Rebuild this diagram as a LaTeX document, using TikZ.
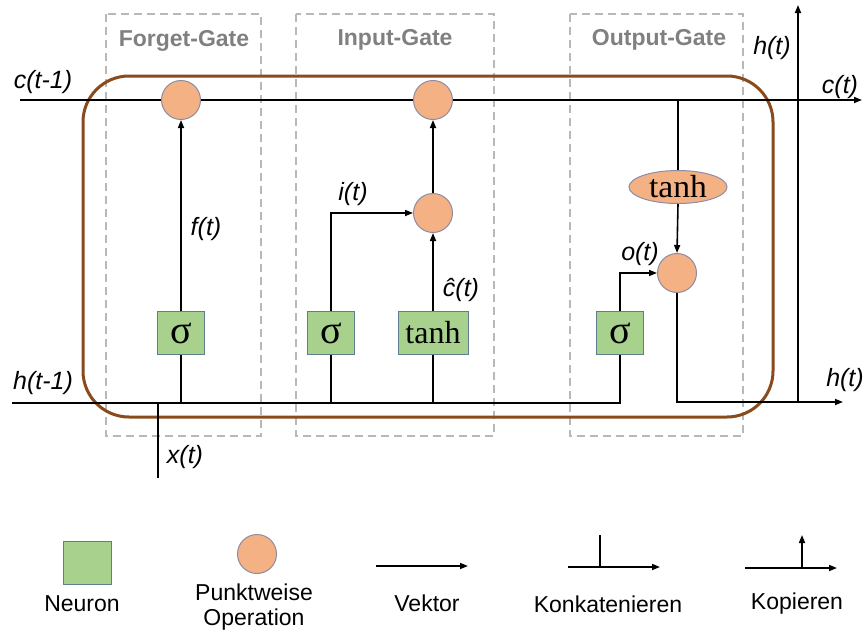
\documentclass[tikz,border=0pt]{standalone}
\usepackage{fontspec}
\setmainfont{Liberation Sans}
\newfontfamily\serifF{Liberation Serif}
\usetikzlibrary{arrows.meta,shapes.geometric}
\definecolor{orfill}{HTML}{F4B183}
\definecolor{ordraw}{HTML}{8C8CA6}
\definecolor{grfill}{HTML}{A9D18E}
\definecolor{grdraw}{HTML}{5F7F8F}
\definecolor{brownline}{HTML}{8A4A1C}
\definecolor{gatecol}{HTML}{808080}
\definecolor{dashcol}{HTML}{B8B8B8}
\tikzset{
  wire/.style={line width=1.6pt,black},
  arr/.style={wire,-{Triangle[length=8pt,width=6pt]}},
  neuron/.style={draw=grdraw,fill=grfill,line width=1pt,minimum width=47pt,minimum height=43pt,inner sep=0pt,font=\serifF\fontsize{32}{34}\selectfont},
  pw/.style={circle,draw=ordraw,fill=orfill,line width=1pt,minimum size=39pt,inner sep=0pt},
  pwell/.style={ellipse,draw=ordraw,fill=orfill,line width=1pt,minimum width=98pt,minimum height=33pt,inner sep=0pt,font=\serifF\fontsize{32}{34}\selectfont},
  gatebox/.style={draw=dashcol,line width=2.2pt,dash pattern=on 8pt off 5pt},
  gatelbl/.style={text=gatecol,font=\bfseries\fontsize{23}{26}\selectfont},
  lbl/.style={font=\itshape\fontsize{25}{28}\selectfont,inner sep=0pt},
  leg/.style={font=\fontsize{23}{25}\selectfont,inner sep=0pt,align=center},
}
\newcommand{\sig}{\scalebox{1.25}{σ}}
\begin{document}
\begin{tikzpicture}[x=1pt,y=-1pt]
\useasboundingbox (0,0) rectangle (864,637);
% gate boxes
\draw[gatebox] (106,14) rectangle (261,436);
\draw[gatebox] (296,14) rectangle (494,436);
\draw[gatebox] (570,14) rectangle (743,436);
\node[gatelbl] (lforget) at (184,41) {Forget-Gate};
\node[gatelbl] (linput) at (395,40) {Input-Gate};
\node[gatelbl] (loutput) at (659,40) {Output-Gate};
% cell outline
\draw[brownline,line width=3pt,rounded corners=46pt] (83,76) rectangle (773,417);
% nodes
\node[pw] (fmul) at (181,100) {};
\node[pw] (imul) at (433,100) {};
\node[pw] (imul2) at (433,213) {};
\node[pw] (omul) at (677,273) {};
\node[pwell] (otanh) at (678,187) {\scalebox{1.05}[1]{tanh}};
\node[neuron] (fsig) at (181,333) {\sig};
\node[neuron] (isig) at (331,333) {\sig};
\node[neuron,minimum width=70pt] (itanh) at (433,333) {tanh};
\node[neuron] (osig) at (620,333) {\sig};
% coordinates
\coordinate (cin) at (20,100);
\coordinate (cout) at (862,100);
\coordinate (ctap) at (678,100);
\coordinate (hin) at (12,403);
\coordinate (hend) at (620,403);
\coordinate (fj) at (181,403);
\coordinate (ij) at (331,403);
\coordinate (tj) at (433,403);
\coordinate (xj) at (158,403);
\coordinate (xin) at (158,478);
\coordinate (hcopy) at (798,402);
\coordinate (hout) at (843,402);
\coordinate (htop) at (798,5);
% cell state line
\draw[wire] (cin) -- (fmul.west);
\draw[wire] (fmul.east) -- (imul.west);
\draw[arr] (imul.east) -- (cout);
% hidden/input line
\draw[wire] (hin) -- (hend) -- (osig.south);
\draw[wire] (xin) -- (xj);
\draw[wire] (fj) -- (fsig.south);
\draw[wire] (ij) -- (isig.south);
\draw[wire] (tj) -- (itanh.south);
% gates
\draw[arr] (fsig.north) -- (fmul.south);
\draw[arr] (isig.north) |- (imul2.west);
\draw[arr] (itanh.north) -- (imul2.south);
\draw[arr] (imul2.north) -- (imul.south);
\draw[wire] (ctap) -- (otanh.north);
\draw[arr] (otanh.south) -- (omul.north);
\draw[arr] (osig.north) |- (omul.west);
\draw[wire] (omul.south) |- (hcopy);
\draw[arr] (hcopy) -- (hout);
\draw[arr] (hcopy) -- (htop);
% labels
\node[lbl] (tc0) at (43,82) {c(t-1)};
\node[lbl] (th0) at (43,383) {h(t-1)};
\node[lbl] (tf) at (206,229) {f(t)};
\node[lbl] (tx) at (185,457) {x(t)};
\node[lbl] (ti) at (353,194) {i(t)};
\node[lbl] (tch) at (461,290) {\^{c}(t)};
\node[lbl] (to) at (640,254) {o(t)};
\node[lbl] (tht) at (772,48) {h(t)};
\node[lbl] (tc1) at (840,87) {c(t)};
\node[lbl] (th1) at (845,380) {h(t)};
% legend
\node[neuron,minimum width=48pt] (lgneuron) at (87,562.5) {};
\node[pw,minimum size=39pt] (lgpw) at (257,554) {};
\node[leg] (lgt1) at (82,604) {Neuron};
\node[leg] (lgt2) at (254,607) {Punktweise\\Operation};
\node[leg] (lgt3) at (427,603) {Vektor};
\node[leg] (lgt4) at (608,604) {Konkatenieren};
\node[leg] (lgt5) at (797,604) {Kopieren};
\coordinate (v1) at (376,566);
\coordinate (v2) at (468,566);
\draw[arr] (v1) -- (v2);
\coordinate (k1) at (568,567);
\coordinate (k2) at (660,567);
\coordinate (k3) at (600,535);
\coordinate (k4) at (600,567);
\draw[arr] (k1) -- (k2);
\draw[wire] (k3) -- (k4);
\coordinate (p1) at (745,568);
\coordinate (p2) at (837,568);
\coordinate (p3) at (802,568);
\coordinate (p4) at (802,535);
\draw[arr] (p1) -- (p2);
\draw[arr] (p3) -- (p4);
\end{tikzpicture}
\end{document}
